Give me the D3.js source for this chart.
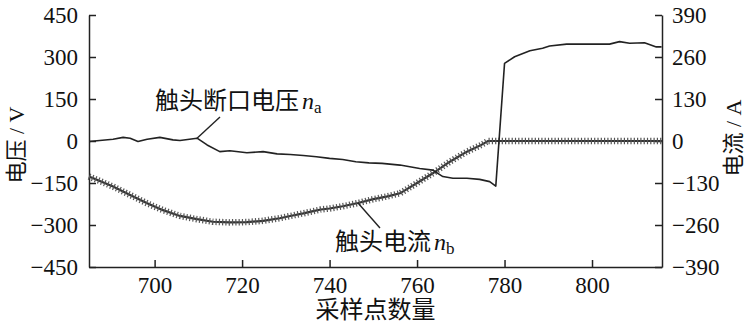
<!DOCTYPE html>
<html>
<head>
<meta charset="utf-8">
<script src="https://cdn.jsdelivr.net/npm/d3@7/dist/d3.min.js"></script>
<style>
  html, body { margin: 0; padding: 0; background: #fff; }
  svg { display: block; }
  text { font-family: "Liberation Serif", "Noto Sans CJK SC", serif; fill: #111; }
</style>
</head>
<body>
<svg id="chart" width="750" height="326"></svg>
<script>
// ---- data ----
const xTicks = [700, 720, 740, 760, 780, 800];
const voltTicks = [-450, -300, -150, 0, 150, 300, 450];
const currTicks = [-390, -260, -130, 0, 130, 260, 390];

// contact gap voltage n_a (V)
const voltX = [685, 690.5, 692.8, 694.4, 696.2, 698.3, 701.2, 704.2, 705.8, 709.7, 712, 714.9, 717.2, 721.1, 724.8, 728, 731, 734, 737, 740, 743, 746, 749, 752, 756.1, 760.6, 763.6, 765.9, 768.2, 771.4, 774.3, 776.6, 778.0, 780.0, 782.3, 785.8, 788.7, 790.3, 794.2, 798.8, 804.0, 806.3, 808.6, 812.0, 814.7, 815.9];
const voltV = [-2, 6, 13, 10, -2, 6, 13, 4, 2, 10, -14, -38, -35, -42, -38, -46, -48, -52, -56, -62, -66, -74, -78, -80, -86, -98, -104, -127, -133, -133, -137, -145, -161, 277, 301, 322, 331, 339, 346, 346, 346, 355, 349, 351, 336, 336];

// contact current n_b (A)
const currX = [685, 690.5, 694.4, 698.3, 701.9, 705.8, 709.7, 713.3, 717.2, 721.1, 724.8, 728.6, 731, 734, 736, 738, 740, 743, 746.5, 750, 753, 756.1, 760, 763.6, 767.5, 771.4, 774.7, 776.2, 816];
const currI = [-110, -141, -167, -193, -214, -232, -242, -250, -252, -251, -247, -239, -232, -224, -218, -212, -209, -202, -192, -180, -172, -162, -130, -100, -64, -33, -12, 0, 0];

const xLabel = "采样点数量";
const yLeftLabel = "电压 / V";
const yRightLabel = "电流 / A";

// ---- layout ----
const svg = d3.select("#chart");
const L = 89, R = 662, T = 15, B = 267;
const x = d3.scaleLinear().domain([685, 816]).range([L, R]);
const yV = d3.scaleLinear().domain([-450, 450]).range([B, T]);
const yI = d3.scaleLinear().domain([-390, 390]).range([B, T]);

const fmt = d => (d < 0 ? "\u2212" + Math.abs(d) : String(d));

function styleAxis(g) {
  g.selectAll("path.domain").attr("stroke", "#222").attr("stroke-width", 1.5);
  g.selectAll(".tick line").attr("stroke", "#222").attr("stroke-width", 1.5);
  g.selectAll(".tick text").attr("font-size", 23)
    .attr("font-family", '"Liberation Serif", serif').attr("fill", "#111");
}

svg.append("g").attr("transform", `translate(0,${B})`)
  .call(d3.axisBottom(x).tickValues(xTicks).tickSize(-7).tickSizeOuter(0).tickPadding(10).tickFormat(fmt))
  .call(styleAxis);
svg.append("g").attr("transform", `translate(${L},0)`)
  .call(d3.axisLeft(yV).tickValues(voltTicks).tickSize(-7).tickSizeOuter(0).tickPadding(11).tickFormat(fmt))
  .call(styleAxis);
svg.append("g").attr("transform", `translate(${R},0)`)
  .call(d3.axisRight(yI).tickValues(currTicks).tickSize(-7).tickSizeOuter(0).tickPadding(10).tickFormat(fmt))
  .call(styleAxis);

// ---- lines ----
const vData = voltX.map((d, i) => [d, voltV[i]]);
const iData = currX.map((d, i) => [d, currI[i]]);
const lineV = d3.line().x(d => x(d[0])).y(d => yV(d[1]));
const lineI = d3.line().x(d => x(d[0])).y(d => yI(d[1]));

svg.append("path").datum(iData).attr("d", lineI)
  .attr("fill", "none").attr("stroke", "#333").attr("stroke-width", 2.2);
svg.append("path").datum(iData).attr("d", lineI)
  .attr("fill", "none").attr("stroke", "#555").attr("stroke-width", 6.5)
  .attr("stroke-dasharray", "1.2 2.1");

svg.append("path").datum(vData).attr("d", lineV)
  .attr("fill", "none").attr("stroke", "#222").attr("stroke-width", 1.6)
  .attr("stroke-linejoin", "round");

// ---- annotations ----
svg.append("line").attr("x1", 220).attr("y1", 117).attr("x2", x(709.7)).attr("y2", yV(10))
  .attr("stroke", "#222").attr("stroke-width", 1.4);
const ta = svg.append("text").attr("x", 155).attr("y", 109).attr("font-size", 24);
ta.append("tspan").text("触头断口电压");
ta.append("tspan").attr("font-style", "italic").attr("dx", 3).text("n");
ta.append("tspan").attr("font-size", 17).attr("dy", 4).text("a");

svg.append("line").attr("x1", 380).attr("y1", 228).attr("x2", x(746.5)).attr("y2", yI(-192))
  .attr("stroke", "#222").attr("stroke-width", 1.4);
const tb = svg.append("text").attr("x", 335).attr("y", 250).attr("font-size", 24);
tb.append("tspan").text("触头电流");
tb.append("tspan").attr("font-style", "italic").attr("dx", 3).text("n");
tb.append("tspan").attr("font-size", 17).attr("dy", 4).text("b");

// ---- axis titles ----
svg.append("text").attr("x", (L + R) / 2).attr("y", 318).attr("text-anchor", "middle")
  .attr("font-size", 24).text(xLabel);
svg.append("text").attr("transform", `translate(24,145) rotate(-90)`).attr("text-anchor", "middle")
  .attr("font-size", 22).text(yLeftLabel);
svg.append("text").attr("transform", `translate(741,138) rotate(-90)`).attr("text-anchor", "middle")
  .attr("font-size", 22).text(yRightLabel);
</script>
</body>
</html>
